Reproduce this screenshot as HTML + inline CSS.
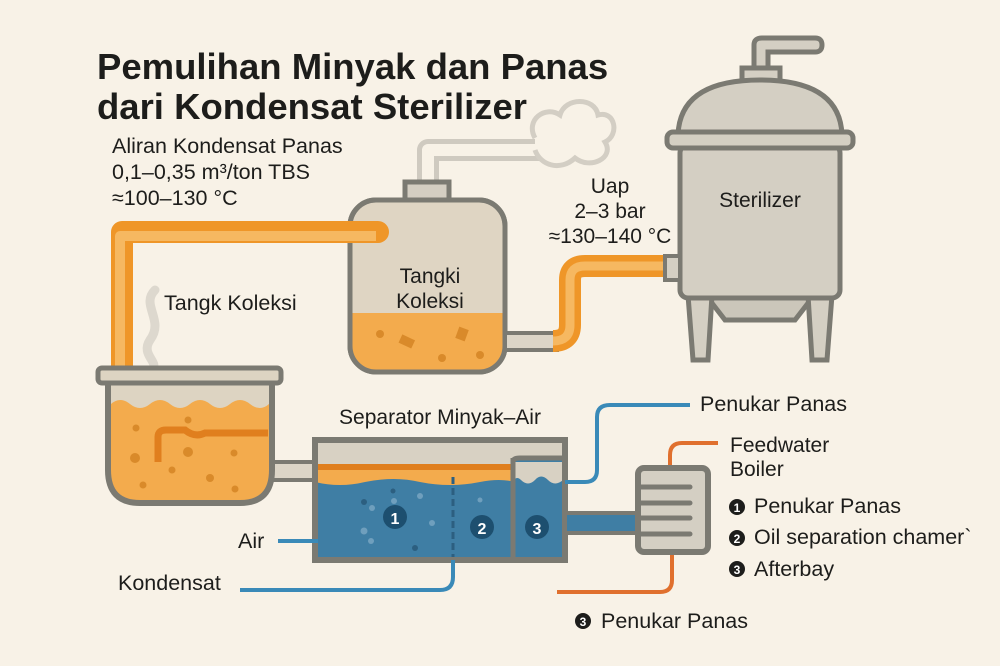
<!DOCTYPE html>
<html><head><meta charset="utf-8"><style>
html,body{margin:0;padding:0;background:#f8f2e7;}
svg{display:block}
text{font-family:"Liberation Sans",sans-serif;fill:#1d1d1b}
</style></head><body>
<svg width="1000" height="666" viewBox="0 0 1000 666" xmlns="http://www.w3.org/2000/svg">
<rect width="1000" height="666" fill="#f8f2e7"/>
<!-- Title -->
<text x="97" y="79" font-size="36.5" font-weight="bold">Pemulihan Minyak dan Panas</text>
<text x="97" y="119" font-size="36.5" font-weight="bold">dari Kondensat Sterilizer</text>
<text x="112" y="153" font-size="21.5">Aliran Kondensat Panas</text>
<text x="112" y="179" font-size="21.5">0,1–0,35 m³/ton TBS</text>
<text x="112" y="205" font-size="21.5">≈100–130 °C</text>

<!-- steam pipe & cloud -->
<path d="M428 182 V150 H540" fill="none" stroke="#cfcac0" stroke-width="22" stroke-linejoin="round"/>
<path d="M428 182 V150 H540" fill="none" stroke="#f8f2e7" stroke-width="12" stroke-linejoin="round"/>
<path d="M535 138 C525 120 545 105 560 115 C565 97 595 97 598 115 C615 110 620 135 605 142 C615 158 590 170 575 158 C560 172 540 165 535 150" fill="#f8f2e7" stroke="#d3cec4" stroke-width="5"/>

<!-- steam wisp -->
<path d="M155 290 C140 305 165 320 150 340 C140 355 160 362 152 370" fill="none" stroke="#ddd8ce" stroke-width="9" stroke-linecap="round"/>
<text x="164" y="310" font-size="21.5">Tangk Koleksi</text>

<!-- collection tank -->
<rect x="405" y="182" width="44" height="20" fill="#d4cec2" stroke="#7b7a72" stroke-width="5"/>
<rect x="350" y="200" width="155" height="172" rx="26" fill="#dfd5c3" stroke="#7b7a72" stroke-width="5"/>
<path d="M352 313 H503 V345 Q503 370 478 370 H377 Q352 370 352 345Z" fill="#f3ab4d"/>
<rect x="400" y="337" width="14" height="9" fill="#d98a2a" transform="rotate(25 407 341)"/>
<rect x="457" y="328" width="10" height="12" fill="#d98a2a" transform="rotate(20 462 334)"/>
<circle cx="380" cy="334" r="4" fill="#d98a2a"/><circle cx="442" cy="358" r="4" fill="#d98a2a"/><circle cx="480" cy="355" r="4" fill="#d98a2a"/>
<rect x="350" y="200" width="155" height="172" rx="26" fill="none" stroke="#7b7a72" stroke-width="5"/>
<text x="430" y="283" font-size="21" text-anchor="middle">Tangki</text>
<text x="430" y="308" font-size="21" text-anchor="middle">Koleksi</text>

<!-- orange pipe top-left (over tank edge) -->
<path d="M122 372 V232 H378" fill="none" stroke="#ef9628" stroke-width="22" stroke-linejoin="round" stroke-linecap="round"/>
<path d="M120 372 V236 H376" fill="none" stroke="#f6b861" stroke-width="10" stroke-linejoin="round"/>

<!-- pipe tank->sterilizer -->
<rect x="505" y="333" width="52" height="17" fill="#dcd5c7" stroke="#7b7a72" stroke-width="4"/>
<path d="M553 341 Q570 341 570 325 V280 Q570 266 585 266 H668" fill="none" stroke="#ef9628" stroke-width="22" stroke-linejoin="round"/>
<path d="M553 341 Q570 341 570 325 V280 Q570 266 585 266 H668" fill="none" stroke="#f6b861" stroke-width="9" stroke-linejoin="round"/>
<text x="610" y="193" font-size="21" text-anchor="middle">Uap</text>
<text x="610" y="218" font-size="21" text-anchor="middle">2–3 bar</text>
<text x="610" y="243" font-size="21" text-anchor="middle">≈130–140 °C</text>

<!-- Sterilizer -->
<path d="M754 72 V45 Q754 38 762 38 H815 Q822 38 822 45 Q822 52 815 52 H768 V72" fill="#d4cfc3" stroke="#7b7a72" stroke-width="5"/>
<rect x="742" y="68" width="38" height="14" fill="#d4cfc3" stroke="#7b7a72" stroke-width="5"/>
<path d="M678 135 Q680 80 760 80 Q840 80 842 135Z" fill="#d4cfc3" stroke="#7b7a72" stroke-width="5"/>
<path d="M708 298 L725 320 H795 L812 298Z" fill="#cbc6ba" stroke="#7b7a72" stroke-width="5"/>
<path d="M688 295 H712 L708 360 H693Z" fill="#d4cfc3" stroke="#7b7a72" stroke-width="5"/>
<path d="M808 295 H832 L827 360 H812Z" fill="#d4cfc3" stroke="#7b7a72" stroke-width="5"/>
<rect x="680" y="145" width="160" height="153" rx="8" fill="#d4cfc3" stroke="#7b7a72" stroke-width="5"/>
<rect x="667" y="132" width="186" height="16" rx="6" fill="#d4cfc3" stroke="#7b7a72" stroke-width="5"/>
<rect x="665" y="256" width="15" height="24" fill="#d4cfc3" stroke="#7b7a72" stroke-width="4"/>
<text x="760" y="207" font-size="21" text-anchor="middle">Sterilizer</text>

<!-- left tank -->
<rect x="270" y="462" width="50" height="18" fill="#dcd5c7" stroke="#7b7a72" stroke-width="4"/>
<path d="M108 380 V470 Q108 503 140 503 H240 Q272 503 272 470 V380" fill="#f3ab4d" stroke="#7b7a72" stroke-width="6"/>
<path d="M111 382 H269 V404 Q260 412 250 404 Q240 396 230 404 Q220 412 210 404 Q200 396 190 404 Q180 412 170 404 Q160 396 150 404 Q140 412 130 404 Q120 396 111 404Z" fill="#ddd4c2"/>
<path d="M158 462 V437 Q158 430 166 430 H185 Q195 438 205 433 H268" fill="none" stroke="#e07f1e" stroke-width="7"/>
<circle cx="136" cy="428" r="3.5" fill="#d98a2a"/><circle cx="188" cy="420" r="3.5" fill="#d98a2a"/><circle cx="135" cy="458" r="5" fill="#d98a2a"/><circle cx="188" cy="452" r="5" fill="#d98a2a"/><circle cx="172" cy="470" r="3.5" fill="#d98a2a"/><circle cx="234" cy="453" r="3.5" fill="#d98a2a"/><circle cx="210" cy="478" r="4" fill="#d98a2a"/><circle cx="143" cy="485" r="3.5" fill="#d98a2a"/><circle cx="235" cy="489" r="3.5" fill="#d98a2a"/>
<rect x="98" y="368" width="183" height="15" rx="4" fill="#ddd4c2" stroke="#7b7a72" stroke-width="5"/>

<!-- Separator -->
<text x="440" y="424" font-size="21" text-anchor="middle">Separator Minyak–Air</text>
<rect x="315" y="440" width="250" height="120" fill="#d8d1c3"/>
<rect x="315" y="465" width="200" height="20" fill="#f3ab4d"/>
<rect x="315" y="464" width="200" height="6" fill="#e07f1e"/>
<path d="M315 482 Q340 488 365 482 Q395 476 420 482 Q450 488 480 482 Q500 478 515 482 V560 H315Z" fill="#3f7ea4"/>
<rect x="513" y="458" width="52" height="102" fill="#3f7ea4"/>
<path d="M514 462 H563 V480 Q555 487 548 480 Q541 473 535 480 Q528 487 521 480 Q517 476 514 480Z" fill="#d8d1c3"/>
<line x1="513" y1="458" x2="513" y2="560" stroke="#7b7a72" stroke-width="5"/>
<path d="M513 462 Q513 458 520 458 H563" fill="none" stroke="#7b7a72" stroke-width="5"/>
<line x1="453" y1="477" x2="453" y2="560" stroke="#2c5f80" stroke-width="3" stroke-dasharray="7 4"/>
<circle cx="393" cy="491" r="2.5" fill="#2c5f80"/><circle cx="394" cy="501" r="3" fill="#6f9fbd"/><circle cx="420" cy="496" r="3" fill="#6f9fbd"/><circle cx="364" cy="502" r="3" fill="#2c5f80"/><circle cx="364" cy="531" r="3.5" fill="#6f9fbd"/><circle cx="372" cy="508" r="3" fill="#6f9fbd"/><circle cx="432" cy="523" r="3" fill="#6f9fbd"/><circle cx="371" cy="541" r="3" fill="#6f9fbd"/><circle cx="415" cy="548" r="3" fill="#2c5f80"/><circle cx="480" cy="500" r="2.5" fill="#6f9fbd"/>
<rect x="315" y="440" width="250" height="120" fill="none" stroke="#7b7a72" stroke-width="6"/>
<circle cx="395" cy="517" r="12" fill="#1d4f6f"/><text x="395" y="524" font-size="16" style="fill:#fff" text-anchor="middle" font-weight="bold">1</text>
<circle cx="482" cy="527" r="12" fill="#1d4f6f"/><text x="482" y="534" font-size="16" style="fill:#fff" text-anchor="middle" font-weight="bold">2</text>
<circle cx="537" cy="527" r="12" fill="#1d4f6f"/><text x="537" y="534" font-size="16" style="fill:#fff" text-anchor="middle" font-weight="bold">3</text>

<!-- blue pipes -->
<path d="M565 482 H585 Q597 482 597 470 V417 Q597 405 610 405 H690" fill="none" stroke="#3a8ab8" stroke-width="4"/>
<text x="700" y="411" font-size="21.5">Penukar Panas</text>
<rect x="565" y="513" width="75" height="20" fill="#3f7ea4" stroke="#7b7a72" stroke-width="4"/>
<line x1="278" y1="541" x2="318" y2="541" stroke="#3a8ab8" stroke-width="4"/>
<text x="238" y="548" font-size="21.5">Air</text>
<path d="M240 590 H440 Q453 590 453 577 V560" fill="none" stroke="#3a8ab8" stroke-width="4"/>
<text x="118" y="590" font-size="21.5">Kondensat</text>

<!-- orange lines -->
<path d="M670 468 V455 Q670 443 682 443 H718" fill="none" stroke="#e0702e" stroke-width="4"/>
<path d="M672 552 V580 Q672 592 660 592 H557" fill="none" stroke="#e0702e" stroke-width="4"/>
<!-- heat exchanger -->
<rect x="638" y="468" width="70" height="84" rx="6" fill="#d4cfc3" stroke="#7b7a72" stroke-width="6"/>
<g stroke="#7b7a72" stroke-width="5" stroke-linecap="round"><line x1="640" y1="487" x2="690" y2="487"/><line x1="640" y1="503" x2="690" y2="503"/><line x1="640" y1="518" x2="690" y2="518"/><line x1="640" y1="534" x2="690" y2="534"/></g>

<text x="730" y="452" font-size="21">Feedwater</text>
<text x="730" y="476" font-size="21">Boiler</text>
<g font-size="21.5">
<circle cx="737" cy="507" r="8" fill="#1d1d1b"/><text x="737" y="512" font-size="12" style="fill:#fff" text-anchor="middle" font-weight="bold">1</text><text x="754" y="513">Penukar Panas</text>
<circle cx="737" cy="538" r="8" fill="#1d1d1b"/><text x="737" y="543" font-size="12" style="fill:#fff" text-anchor="middle" font-weight="bold">2</text><text x="754" y="544">Oil separation chamer`</text>
<circle cx="737" cy="569" r="8" fill="#1d1d1b"/><text x="737" y="574" font-size="12" style="fill:#fff" text-anchor="middle" font-weight="bold">3</text><text x="754" y="576">Afterbay</text>
<circle cx="583" cy="621" r="8" fill="#1d1d1b"/><text x="583" y="626" font-size="12" style="fill:#fff" text-anchor="middle" font-weight="bold">3</text><text x="601" y="628">Penukar Panas</text>
</g>
</svg>
</body></html>
